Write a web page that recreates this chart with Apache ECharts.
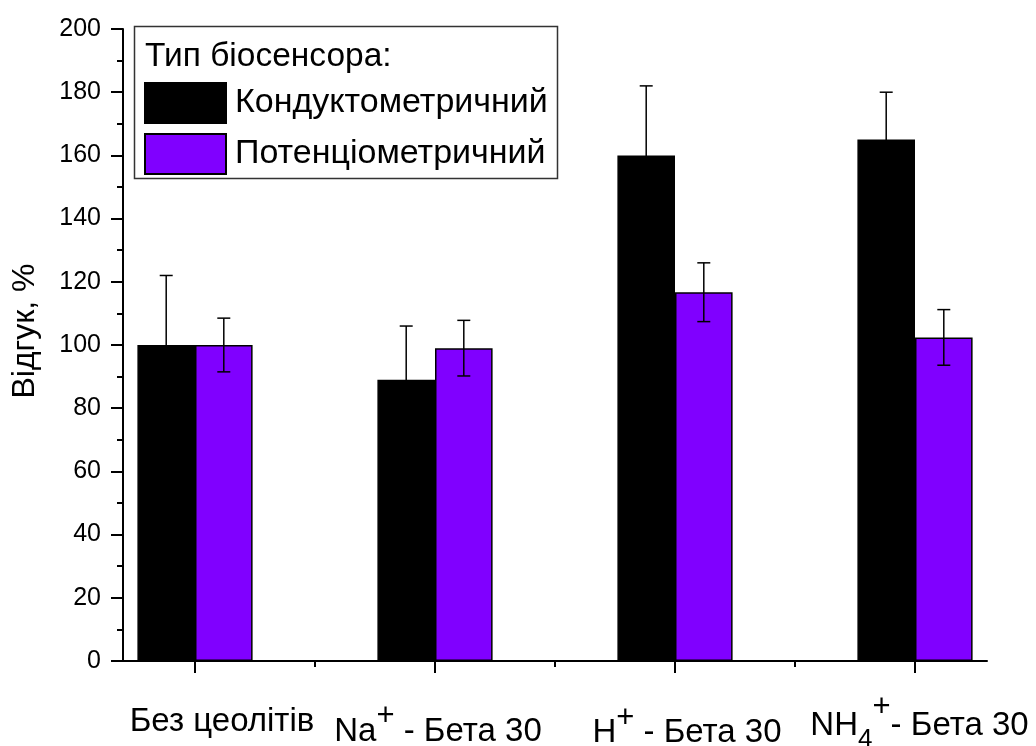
<!DOCTYPE html>
<html>
<head>
<meta charset="utf-8">
<script src="https://cdn.jsdelivr.net/npm/echarts@6/dist/echarts.min.js"></script>
<style>
html,body{margin:0;padding:0;background:#fff;}
#chart{width:1036px;height:746px;}
</style>
</head>
<body>
<div id="chart"></div>
<script>
// ---- data ----
const categoryPositions = [1, 2, 3, 4];
const categoryLabels = [
  '{b0|Без цеолітів}',
  '{a0|Na}{asup|+}{a| - Бета 30}',
  '{h0|H}{hsup|+}{h| - Бета 30}',
  '{m0|NH}{msub|4}{msup|+}{m|- Бета 30}'
];
const seriesNames = ['Кондуктометричний', 'Потенціометричний'];
const conductValues = [100, 89, 160, 165];
const conductErrors = [22, 17, 22, 15];
const potentValues = [100, 99, 116.7, 102.4];
const potentErrors = [8.5, 8.8, 9.3, 8.8];
const yTicks = [0, 20, 40, 60, 80, 100, 120, 140, 160, 180, 200];
const legendTitle = 'Тип біосенсора:';
const yAxisTitle = 'Відгук, %';

// ---- chart ----
const FONT = 'Liberation Sans, Arial, sans-serif';
const BAR_FRAC = 0.24;
const chart = echarts.init(document.getElementById('chart'), null, {renderer: 'canvas'});

function barData(vals) { return categoryPositions.map((x, i) => [x, vals[i]]); }
function errData(vals, errs) { return categoryPositions.map((x, i) => [x, vals[i], errs[i]]); }

function errorRenderer(side) {
  return function (params, api) {
    const x = api.value(0), y = api.value(1), e = api.value(2);
    const band = api.size([1, 0])[0];
    const off = side * band * BAR_FRAC / 2;
    const top = api.coord([x, y + e]);
    const bot = api.coord([x, y - e]);
    const cx = top[0] + off;
    const hw = 6.5;
    const st = {stroke: '#000', lineWidth: 1.5};
    return {
      type: 'group',
      children: [
        {type: 'line', shape: {x1: cx, y1: top[1], x2: cx, y2: bot[1]}, style: st},
        {type: 'line', shape: {x1: cx - hw, y1: top[1], x2: cx + hw, y2: top[1]}, style: st},
        {type: 'line', shape: {x1: cx - hw, y1: bot[1], x2: cx + hw, y2: bot[1]}, style: st}
      ]
    };
  };
}

function tok(size, lh, pad) {
  return {fontFamily: FONT, fontSize: size, color: '#000', lineHeight: lh, verticalAlign: 'bottom', padding: pad};
}
const labelRich = {
  b0: tok(33, 30, [0, 0, 18.5, 54]),
  a0: tok(33, 30, [0, 0, 8, 6]),
  a: tok(33, 30, [0, 0, 8, 0]),
  asup: tok(31, 28, [0, 0, 25, 0]),
  h0: tok(33, 30, [0, 0, 7, 24]),
  h: tok(33, 30, [0, 0, 7, 0]),
  hsup: tok(31, 28, [0, 0, 22.5, 0]),
  m0: tok(33, 30, [0, 0, 14.5, 9]),
  m: tok(33, 30, [0, 0, 14.5, 0]),
  msup: tok(31, 28, [0, 0, 34, 0]),
  msub: tok(26, 24, [0, 0, 4, 0])
};

const option = {
  backgroundColor: '#fff',
  animation: false,
  textStyle: {fontFamily: FONT},
  grid: {left: 123, right: 49, top: 29, bottom: 85, containLabel: false, outerBoundsMode: 'none'},
  title: {
    text: legendTitle, left: 140, top: 35,
    textStyle: {fontFamily: FONT, fontSize: 33.5, fontWeight: 'normal', color: '#000'}
  },
  legend: {
    orient: 'vertical', left: 139, top: 77,
    itemWidth: 81, itemHeight: 40, itemGap: 9,
    icon: 'rect',
    data: seriesNames,
    textStyle: {fontFamily: FONT, fontSize: 34, color: '#000', padding: [0, 0, 0, 4]}
  },
  graphic: [{
    type: 'rect', left: 132, top: 24, z: 100,
    shape: {width: 423, height: 152},
    style: {fill: 'none', stroke: '#333', lineWidth: 1.5}
  }],
  xAxis: [{
    type: 'value', min: 0.7, max: 4.3,
    splitLine: {show: false},
    axisLine: {show: true, onZero: false, lineStyle: {color: '#000', width: 2}},
    axisTick: {show: true, inside: false, length: 12, customValues: categoryPositions, lineStyle: {color: '#000', width: 2}},
    axisLabel: {
      show: true, margin: 65.5, customValues: categoryPositions,
      formatter: function (v) { return categoryLabels[Math.round(v) - 1]; },
      rich: labelRich
    }
  }, {
    type: 'value', min: 0.7, max: 4.3, position: 'bottom',
    splitLine: {show: false},
    axisLine: {show: false},
    axisTick: {show: true, inside: false, length: 6, customValues: [1.5, 2.5, 3.5], lineStyle: {color: '#000', width: 2}},
    axisLabel: {show: false}
  }],
  yAxis: {
    type: 'value', min: 0, max: 200, interval: 20,
    name: yAxisTitle, nameLocation: 'middle', nameGap: 82, nameRotate: 90,
    nameTextStyle: {fontFamily: FONT, fontSize: 32, color: '#000', padding: [0, 0, 0, 28]},
    splitLine: {show: false},
    axisLine: {show: true, lineStyle: {color: '#000', width: 2}},
    axisTick: {show: true, inside: false, length: 12, lineStyle: {color: '#000', width: 2}},
    minorTick: {show: true, splitNumber: 2, length: 6, lineStyle: {color: '#000', width: 2}},
    axisLabel: {fontFamily: FONT, fontSize: 25, color: '#000', margin: 22,
      customValues: yTicks}
  },
  series: [{
    name: seriesNames[0], type: 'bar', xAxisIndex: 0,
    data: barData(conductValues),
    barWidth: (BAR_FRAC * 100) + '%', barGap: '0%',
    itemStyle: {color: '#000', borderColor: '#000', borderWidth: 1.5}
  }, {
    name: seriesNames[1], type: 'bar', xAxisIndex: 0,
    data: barData(potentValues),
    barWidth: (BAR_FRAC * 100) + '%', barGap: '0%',
    itemStyle: {color: '#8000FF', borderColor: '#000', borderWidth: 1.5}
  }, {
    name: 'errC', type: 'custom', xAxisIndex: 0, z: 10,
    renderItem: errorRenderer(-1),
    encode: {x: 0, y: 1},
    data: errData(conductValues, conductErrors)
  }, {
    name: 'errP', type: 'custom', xAxisIndex: 0, z: 10,
    renderItem: errorRenderer(1),
    encode: {x: 0, y: 1},
    data: errData(potentValues, potentErrors)
  }]
};
chart.setOption(option);
</script>
</body>
</html>
